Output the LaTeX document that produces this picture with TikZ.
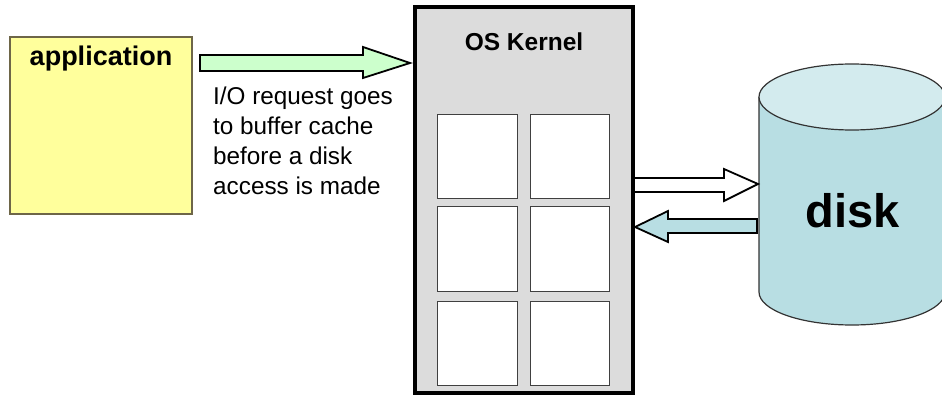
\documentclass[tikz,border=0pt]{standalone}
\usepackage{fontspec}
\setmainfont{Liberation Sans}
\usetikzlibrary{calc}

\definecolor{appfill}{HTML}{FFFF9C}
\definecolor{appedge}{HTML}{6E6648}
\definecolor{kernfill}{HTML}{DCDCDC}
\definecolor{reqfill}{HTML}{CCFFCC}
\definecolor{diskfill}{HTML}{B8DEE3}
\definecolor{disktop}{HTML}{D3EBEE}

\tikzset{
  x=1pt, y=-1pt,
  appbox/.style={draw=appedge, line width=1.5pt, fill=appfill},
  kernbox/.style={draw=black, line width=4.5pt, fill=kernfill},
  bufbox/.style={draw=black!75, line width=1pt, fill=white},
  blockarrow/.style={draw=black, line width=1.8pt, line join=miter},
  label/.style={inner sep=0pt, font=\bfseries},
}

\begin{document}
\begin{tikzpicture}
\useasboundingbox (0,0) rectangle (942,398);

% application box
\draw[appbox] (10,37) rectangle (192,214);
\node[label, font=\fontsize{27}{30}\selectfont\bfseries, anchor=base] (apptext) at (101,66) {application};

% kernel with its buffer cache blocks
\draw[kernbox] (415,7) rectangle (633,393);
\node[label, font=\fontsize{24.5}{28}\selectfont\bfseries, anchor=base] (kerntext) at (524,51) {OS Kernel};
\foreach \r/\ya/\yb in {1/115/199, 2/207/291, 3/301/385} {
  \draw[bufbox] (437,\ya) rectangle (517,\yb);
  \draw[bufbox] (530,\ya) rectangle (609,\yb);
}

% request arrow: application -> kernel
\draw[blockarrow, fill=reqfill]
  (200,55) -- (363,55) -- (363,47) -- (410,63) -- (363,78) -- (363,71) -- (200,71) -- cycle;

% explanatory text (base anchor sits on the last line)
\node[inner sep=0pt, anchor=base west, align=left,
      font=\fontsize{24.3}{30}\selectfont] (note) at (213,195)
  {I/O request goes\\to buffer cache\\before a disk\\access is made};

% disk cylinder
\fill[diskfill] (759,97) -- (759,292) arc[start angle=180, end angle=0, x radius=93, y radius=33]
  -- (945,97) -- cycle;
\draw[black!80, line width=1.2pt] (759,97) -- (759,292)
  arc[start angle=180, end angle=0, x radius=93, y radius=33] -- (945,97);
\draw[black!80, line width=1.2pt, fill=disktop] (852,97) ellipse[x radius=93, y radius=33];
\node[label, font=\fontsize{47}{50}\selectfont\bfseries, anchor=base] (disktext) at (852.5,227) {disk};

% write arrow: kernel -> disk
\draw[blockarrow, fill=white]
  (634,178) -- (724,178) -- (724,169) -- (758,184) -- (724,201) -- (724,192) -- (634,192) -- cycle;

% read arrow: disk -> kernel
\draw[blockarrow, fill=diskfill]
  (757,219) -- (668,219) -- (668,211) -- (635,227) -- (668,242) -- (668,233) -- (757,233) -- cycle;

\end{tikzpicture}
\end{document}
